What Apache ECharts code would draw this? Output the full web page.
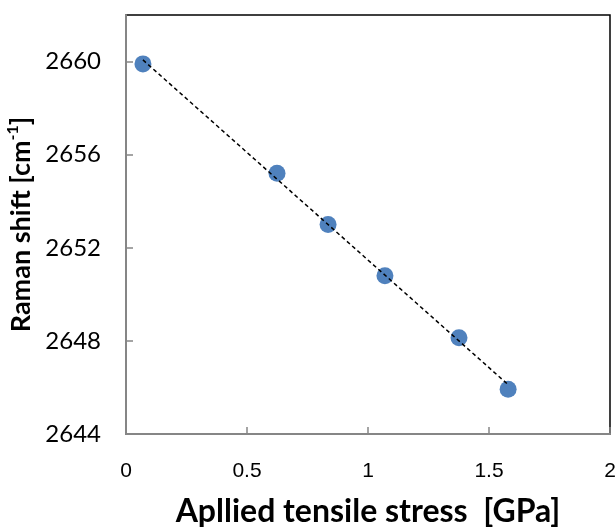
<!DOCTYPE html>
<html>
<head>
<meta charset="utf-8">
<script src="https://cdn.jsdelivr.net/npm/echarts@6/dist/echarts.min.js"></script>
<style>
html,body{margin:0;padding:0;background:#fff;}
#c{width:616px;height:529px;}
</style>
</head>
<body>
<div id="c"></div>
<script>
// Data
var stressGPa = [0.07, 0.624, 0.835, 1.07, 1.376, 1.579];
var ramanShift = [2659.9, 2655.2, 2653.0, 2650.8, 2648.13, 2645.92];
// Linear trend line end points
var trendX = [0.07, 1.579];
var trendY = [2660.07, 2646.12];
var xTicks = [0, 0.5, 1, 1.5, 2];
var yTicks = [2644, 2648, 2652, 2656, 2660];

var chart = echarts.init(document.getElementById('c'), null, {renderer: 'canvas'});

var pts = stressGPa.map(function (x, i) { return [x, ramanShift[i]]; });
var trend = trendX.map(function (x, i) { return [x, trendY[i]]; });

chart.setOption({
  animation: false,
  backgroundColor: '#ffffff',
  grid: {
    left: 126, top: 15, right: 6, bottom: 95,
    containLabel: false, outerBoundsMode: 'none',
    show: true, borderColor: '#000000', borderWidth: 1.5, backgroundColor: 'transparent'
  },
  xAxis: {
    type: 'value', min: 0, max: 2, interval: 0.5,
    axisLine: {show: true, lineStyle: {color: '#868686', width: 2}},
    axisTick: {show: true, inside: true, length: 7, lineStyle: {color: '#868686', width: 1.5}},
    splitLine: {show: false},
    axisLabel: {
      color: '#000', fontFamily: 'Liberation Sans', fontSize: 21, margin: 27,
      formatter: function (v) { return xTicks.indexOf(v) >= 0 ? String(v) : ''; }
    },
    name: 'Apllied tensile stress  [GPa]',
    nameLocation: 'middle', nameGap: 62,
    nameTextStyle: {color: '#000', fontFamily: 'Lato', fontWeight: 'bold', fontSize: 32}
  },
  yAxis: {
    type: 'value', min: 2644, max: 2662, interval: 4,
    axisLine: {show: true, lineStyle: {color: '#868686', width: 2}},
    axisTick: {show: true, inside: true, length: 7, lineStyle: {color: '#868686', width: 1.5}},
    splitLine: {show: false},
    axisLabel: {
      color: '#000', fontFamily: 'Lato', fontSize: 24, margin: 25, showMaxLabel: false,
      formatter: function (v) { return yTicks.indexOf(v) >= 0 ? String(v) : ''; }
    },
    name: '{a|Raman shift [cm}{s|-1}{a|]}',
    nameLocation: 'middle', nameGap: 79, nameRotate: 90,
    nameTextStyle: {
      color: '#000', fontFamily: 'Lato', fontWeight: 'bold', fontSize: 27,
      rich: {
        a: {color: '#000', fontFamily: 'Lato', fontWeight: 'bold', fontSize: 27, lineHeight: 32},
        s: {color: '#000', fontFamily: 'Lato', fontWeight: 'bold', fontSize: 16, lineHeight: 32, verticalAlign: 'top', padding: [0, 0, 10, 0]}
      }
    }
  },
  series: [
    {
      type: 'line', data: trend, symbol: 'none', silent: true, z: 3,
      lineStyle: {color: '#000', width: 1.5, type: [4, 3]}
    },
    {
      type: 'scatter', data: pts, symbol: 'circle', symbolSize: 17, z: 2,
      itemStyle: {color: '#4F81BD', opacity: 1}
    }
  ]
});
</script>
</body>
</html>
